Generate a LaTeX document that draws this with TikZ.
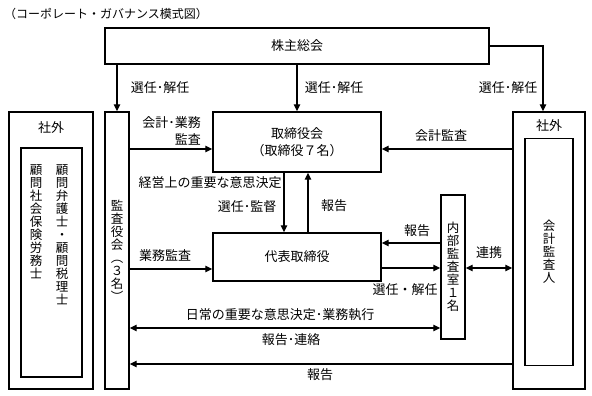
\documentclass[tikz,border=0pt]{standalone}
\usepackage{fontspec}
\setmainfont{Noto Sans CJK JP}
\usetikzlibrary{arrows.meta}
\tikzset{
  box/.style={draw,line width=1.4pt,inner sep=0pt},
  arr/.style={line width=1.3pt,-{Triangle[length=7pt,width=6.5pt]}},
  darr/.style={line width=1.3pt,{Triangle[length=7pt,width=6.5pt]}-{Triangle[length=7pt,width=6.5pt]}},
  lab/.style={inner sep=0pt},
  tate/.style={align=center,font=\fontsize{12.5}{13}\selectfont},
}
\begin{document}
\begin{tikzpicture}[x=1pt,y=-1pt,font=\fontsize{13}{17}\selectfont]
\useasboundingbox (0,0) rectangle (592,396);
\node[lab,anchor=west,font=\fontsize{12}{14}\selectfont] (title) at (4,14) {（コーポレート・ガバナンス模式図）};
% boxes
\node[box,minimum width=384pt,minimum height=36pt] (soukai) at (297,46) {株主総会};
\node[box,tate,minimum width=24pt,minimum height=277pt] (kansa) at (117,250.5) {監\\査\\役\\会\\︵\\３\\名\\︶};
\node[box,minimum width=84pt,minimum height=277pt] (shagaiL) at (51,250.5) {};
\node[box,minimum width=61pt,minimum height=229pt] (komon) at (51.5,262.5) {};
\node[box,align=center,minimum width=168pt,minimum height=60pt] (torishimari) at (297,142) {取締役会\\（取締役７名）};
\node[box,minimum width=168pt,minimum height=48pt] (daihyo) at (297,257) {代表取締役};
\node[box,tate,minimum width=24pt,minimum height=144pt] (naibu) at (453,267) {内\\部\\監\\査\\室\\１\\名};
\node[box,minimum width=72pt,minimum height=277pt] (shagaiR) at (549,250.5) {};
\node[box,tate,minimum width=48pt,minimum height=227pt] (kaikei) at (549,252) {会\\計\\監\\査\\人};
% texts in the outside boxes
\node[lab] (shagaiLt) at (51,128) {社外};
\node[lab] (shagaiRt) at (549,126) {社外};
\node[lab,tate,anchor=north] (sharoushi) at (36,164) {顧\\問\\社\\会\\保\\険\\労\\務\\士};
\node[lab,tate,anchor=north] (bengoshi) at (62,164) {顧\\問\\弁\\護\\士\\・\\顧\\問\\税\\理\\士};
% rows and columns of the connectors
\coordinate (yKaikei) at (0,149);
\coordinate (yGyomu) at (0,269);
\coordinate (yHoukoku) at (0,243);
\coordinate (ySenin) at (0,268);
\coordinate (yNichijo) at (0,328);
\coordinate (yBottom) at (0,364);
\coordinate (xKantoku) at (284,0);
\coordinate (xHoukoku) at (308,0);
\coordinate (xGaibu) at (543,0);
% connectors
\draw[arr] (soukai.south -| kansa) -- (kansa.north);
\draw[arr] (soukai.south) -- (torishimari.north);
\draw[arr] (soukai.east) -| (shagaiR.north -| xGaibu);
\draw[arr] (kansa.east |- yKaikei) -- (torishimari.west |- yKaikei);
\draw[arr] (shagaiR.west |- yKaikei) -- (torishimari.east |- yKaikei);
\draw[arr] (torishimari.south -| xKantoku) -- (daihyo.north -| xKantoku);
\draw[arr] (daihyo.north -| xHoukoku) -- (torishimari.south -| xHoukoku);
\draw[arr] (kansa.east |- yGyomu) -- (daihyo.west |- yGyomu);
\draw[arr] (naibu.west |- yHoukoku) -- (daihyo.east |- yHoukoku);
\draw[arr] (daihyo.east |- ySenin) -- (naibu.west |- ySenin);
\draw[darr] (naibu.east |- ySenin) -- (shagaiR.west |- ySenin);
\draw[darr] (kansa.east |- yNichijo) -- (naibu.west |- yNichijo);
\draw[arr] (shagaiR.west |- yBottom) -- (kansa.east |- yBottom);
% labels
\node[lab] (senin1) at (160,88) {選任･解任};
\node[lab] (senin2) at (334,88) {選任･解任};
\node[lab] (senin3) at (508,88) {選任･解任};
\node[lab,align=right,anchor=east] (kaikeigyomu) at (201,131) {会計･業務\\監査};
\node[lab] (kaikeikansa) at (441,136) {会計監査};
\node[lab] (keiei) at (210,183) {経営上の重要な意思決定};
\node[lab] (kantoku) at (247,207) {選任･監督};
\node[lab] (houkoku1) at (334,206) {報告};
\node[lab] (gyomukansa) at (165,256) {業務監査};
\node[lab] (houkoku2) at (417,231) {報告};
\node[lab] (senin4) at (405,290) {選任・解任};
\node[lab] (renkei) at (489,253) {連携};
\node[lab] (nichijo) at (280,315) {日常の重要な意思決定･業務執行};
\node[lab] (renraku) at (291,340) {報告･連絡};
\node[lab] (houkoku3) at (320,375) {報告};
\end{tikzpicture}
\end{document}
